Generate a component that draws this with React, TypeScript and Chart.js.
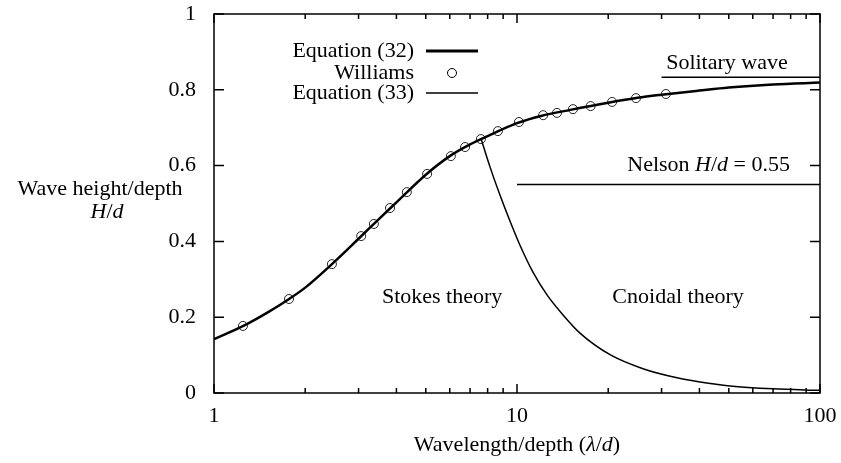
import React, { useEffect, useRef } from 'react';
import { Chart, registerables } from 'chart.js';
Chart.register(...registerables);

// Equation (32) curve
const eq32X = [1, 1.25, 1.5, 1.77, 2, 2.45, 3, 3.5, 4, 5, 6, 7, 8, 10, 12, 15, 20, 25, 30, 40, 50, 70, 100];
const eq32Y = [0.142, 0.177, 0.212, 0.248, 0.278, 0.34, 0.407, 0.459, 0.503, 0.576, 0.625, 0.656, 0.678, 0.712, 0.731, 0.747, 0.766, 0.779, 0.787, 0.798, 0.806, 0.814, 0.819];

// Williams data
const willX = [1.246, 1.768, 2.45, 3.06, 3.37, 3.81, 4.33, 5.05, 6.05, 6.74, 7.6, 8.65, 10.15, 12.2, 13.55, 15.3, 17.5, 20.6, 24.7, 31.0];
const willY = [0.177, 0.248, 0.34, 0.414, 0.446, 0.488, 0.53, 0.578, 0.625, 0.649, 0.67, 0.691, 0.715, 0.733, 0.739, 0.749, 0.757, 0.768, 0.778, 0.789];

// Equation (33) curve
const eq33X = [7.6, 8.15, 8.79, 9.48, 10.23, 11.29, 12.56, 14.19, 16.14, 20.28, 26.05, 33.74, 40.18, 50.47, 70, 100];
const eq33Y = [0.672, 0.596, 0.522, 0.454, 0.39, 0.319, 0.259, 0.206, 0.158, 0.101, 0.064, 0.04, 0.029, 0.0185, 0.011, 0.007];

// Reference lines
const solitaryX = [30, 100];
const solitaryY = [0.833, 0.833];
const nelsonX = [10, 100];
const nelsonY = [0.55, 0.55];

const yTicks = [0, 0.2, 0.4, 0.6, 0.8, 1];
const xMajor = [1, 10, 100];
const xMinor = [2, 3, 4, 5, 6, 7, 8, 9, 20, 30, 40, 50, 60, 70, 80, 90];

const FONT = '"Liberation Serif", "DejaVu Serif", serif';
const FS = 22;

const pts = (xs: number[], ys: number[]) => xs.map((x, i) => ({ x, y: ys[i] }));

type Run = { t: string; i?: boolean };
function drawRuns(ctx: CanvasRenderingContext2D, runs: Run[], x: number, y: number, align: 'left' | 'center' | 'right') {
  const widths = runs.map((r) => {
    ctx.font = `${r.i ? 'italic ' : ''}${FS}px ${FONT}`;
    return ctx.measureText(r.t).width;
  });
  const total = widths.reduce((a, b) => a + b, 0);
  let cx = align === 'left' ? x : align === 'center' ? x - total / 2 : x - total;
  ctx.textAlign = 'left';
  ctx.textBaseline = 'alphabetic';
  runs.forEach((r, k) => {
    ctx.font = `${r.i ? 'italic ' : ''}${FS}px ${FONT}`;
    ctx.fillText(r.t, cx, y);
    cx += widths[k];
  });
}

const decor = {
  id: 'decor',
  afterDraw(chart: any) {
    const { ctx, chartArea: a, scales } = chart;
    const xs = scales.x;
    const ys = scales.y;
    ctx.save();
    ctx.strokeStyle = '#000';
    ctx.fillStyle = '#000';
    ctx.lineWidth = 1.5;
    ctx.strokeRect(a.left, a.top, a.right - a.left, a.bottom - a.top);
    ctx.beginPath();
    yTicks.forEach((v) => {
      const p = ys.getPixelForValue(v);
      ctx.moveTo(a.left, p); ctx.lineTo(a.left + 10, p);
      ctx.moveTo(a.right, p); ctx.lineTo(a.right - 10, p);
    });
    xMajor.forEach((v) => {
      const p = xs.getPixelForValue(v);
      ctx.moveTo(p, a.bottom); ctx.lineTo(p, a.bottom - 9);
      ctx.moveTo(p, a.top); ctx.lineTo(p, a.top + 9);
    });
    xMinor.forEach((v) => {
      const p = xs.getPixelForValue(v);
      ctx.moveTo(p, a.bottom); ctx.lineTo(p, a.bottom - 5);
      ctx.moveTo(p, a.top); ctx.lineTo(p, a.top + 5);
    });
    ctx.stroke();

    // annotations
    drawRuns(ctx, [{ t: 'Stokes theory' }], xs.getPixelForValue(5.66), ys.getPixelForValue(0.237), 'center');
    drawRuns(ctx, [{ t: 'Cnoidal theory' }], xs.getPixelForValue(34), ys.getPixelForValue(0.237), 'center');
    drawRuns(ctx, [{ t: 'Solitary wave' }], xs.getPixelForValue(49.3), ys.getPixelForValue(0.855), 'center');
    drawRuns(ctx, [{ t: 'Nelson ' }, { t: 'H', i: true }, { t: '/' }, { t: 'd', i: true }, { t: ' = 0.55' }], xs.getPixelForValue(79.6), ys.getPixelForValue(0.586), 'right');

    // legend
    const lx = 414;
    drawRuns(ctx, [{ t: 'Equation (32)' }], lx, 57, 'right');
    drawRuns(ctx, [{ t: 'Williams' }], lx, 79, 'right');
    drawRuns(ctx, [{ t: 'Equation (33)' }], lx, 99, 'right');
    ctx.lineWidth = 3;
    ctx.beginPath(); ctx.moveTo(426, 51); ctx.lineTo(478, 51); ctx.stroke();
    ctx.lineWidth = 1.5;
    ctx.beginPath(); ctx.moveTo(426, 93); ctx.lineTo(478, 93); ctx.stroke();
    ctx.lineWidth = 1;
    ctx.beginPath(); ctx.arc(452, 73, 4.5, 0, Math.PI * 2); ctx.stroke();

    // axis titles
    drawRuns(ctx, [{ t: 'Wavelength/depth (' }, { t: 'λ', i: true }, { t: '/' }, { t: 'd', i: true }, { t: ')' }], (a.left + a.right) / 2, 451, 'center');
    drawRuns(ctx, [{ t: 'Wave height/depth' }], 100, 195, 'center');
    drawRuns(ctx, [{ t: 'H', i: true }, { t: '/' }, { t: 'd', i: true }], 107, 218, 'center');
    ctx.restore();
  },
};

export default function App() {
  const ref = useRef<HTMLCanvasElement>(null);
  useEffect(() => {
    if (!ref.current) return;
    const chart = new Chart(ref.current, {
      type: 'line',
      data: {
        datasets: [
          { label: 'Equation (32)', data: pts(eq32X, eq32Y), borderColor: '#000', borderWidth: 2.5, pointRadius: 0, cubicInterpolationMode: 'monotone', fill: false },
          { label: 'Williams', data: pts(willX, willY), showLine: false, pointRadius: 4.5, pointBorderWidth: 1, pointBorderColor: '#222', pointBackgroundColor: 'rgba(0,0,0,0)', borderColor: '#222' },
          { label: 'Equation (33)', data: pts(eq33X, eq33Y), borderColor: '#000', borderWidth: 1.5, pointRadius: 0, cubicInterpolationMode: 'monotone', fill: false },
          { label: 'Solitary', data: pts(solitaryX, solitaryY), borderColor: '#000', borderWidth: 1.5, pointRadius: 0 },
          { label: 'Nelson', data: pts(nelsonX, nelsonY), borderColor: '#000', borderWidth: 1.5, pointRadius: 0 },
        ],
      },
      options: {
        animation: false,
        responsive: false,
        maintainAspectRatio: false,
        layout: { padding: { top: 14, right: 21, left: 0, bottom: 0 } },
        plugins: { legend: { display: false }, tooltip: { enabled: false } },
        scales: {
          x: {
            type: 'logarithmic',
            min: 1,
            max: 100,
            grid: { display: false },
            border: { display: false },
            afterFit: (s: any) => { s.height = 70; s.paddingLeft = 0; s.paddingRight = 0; },
            afterBuildTicks: (s: any) => { s.ticks = xMajor.map((v) => ({ value: v })); },
            ticks: {
              color: '#000',
              padding: 2,
              maxRotation: 0,
              autoSkip: false,
              font: { family: FONT, size: FS },
              callback: (v: any) => String(v),
            },
          },
          y: {
            type: 'linear',
            min: 0,
            max: 1,
            grid: { display: false },
            border: { display: false },
            afterFit: (s: any) => { s.width = 214; s.paddingTop = 0; s.paddingBottom = 0; },
            afterBuildTicks: (s: any) => { s.ticks = yTicks.map((v) => ({ value: v })); },
            ticks: {
              color: '#000',
              padding: 10,
              font: { family: FONT, size: FS },
              callback: (v: any) => String(v),
            },
          },
        },
      },
      plugins: [decor],
    });
    return () => chart.destroy();
  }, []);
  return (
    <div style={{ position: 'fixed', left: 0, top: 0, width: 841, height: 463, background: '#fff' }}>
      <canvas ref={ref} width={841} height={463} style={{ width: 841, height: 463 }} />
    </div>
  );
}
